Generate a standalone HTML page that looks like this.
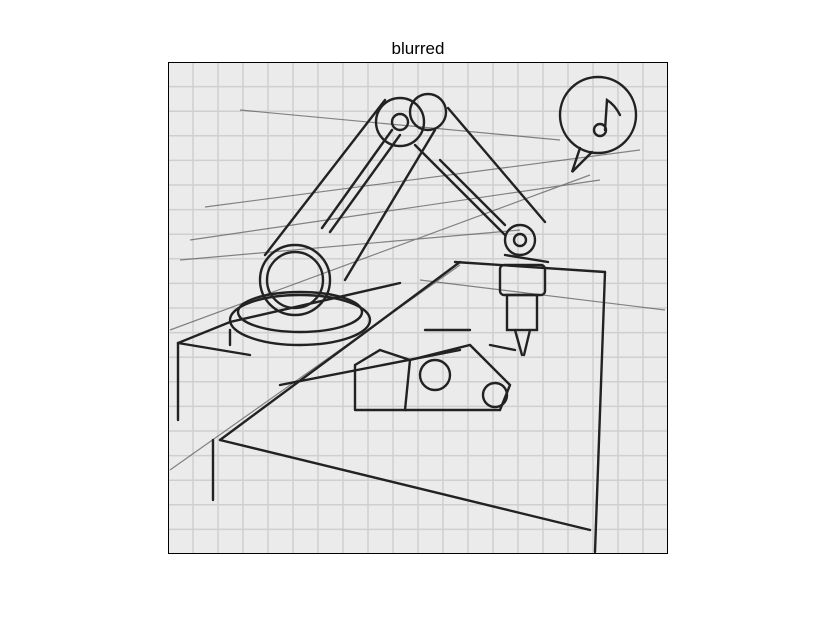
<!DOCTYPE html>
<html><head><meta charset="utf-8"><style>
body{margin:0;background:#fff;width:815px;height:615px;overflow:hidden;font-family:"Liberation Sans",sans-serif}
</style></head><body>
<svg width="815" height="615">
<text x="418" y="54" text-anchor="middle" font-size="17" fill="#000">blurred</text>
<g>
<rect x="168" y="62" width="500" height="492" fill="#ebebeb"/>
<g id="grid" stroke="#cfcfcf" stroke-width="1.5"></g>
<g fill="none" stroke="#555" stroke-width="1.2" opacity="0.7">
<line x1="205" y1="207" x2="640" y2="150"/>
<line x1="170" y1="330" x2="590" y2="175"/>
<line x1="190" y1="240" x2="600" y2="180"/>
<line x1="180" y1="260" x2="520" y2="230"/>
<line x1="170" y1="470" x2="460" y2="265"/>
<line x1="240" y1="110" x2="560" y2="140"/>
<line x1="420" y1="280" x2="665" y2="310"/>
</g>
<g fill="none" stroke="#222" stroke-width="2.4" stroke-linecap="round">
<!-- table -->
<polyline points="178,420 178,343 230,322 400,283"/>
<line x1="230" y1="330" x2="230" y2="345"/>
<line x1="178" y1="343" x2="250" y2="355"/>
<line x1="213" y1="500" x2="213" y2="440"/>
<line x1="220" y1="440" x2="460" y2="262"/>
<line x1="220" y1="440" x2="590" y2="530"/>
<line x1="455" y1="262" x2="605" y2="272"/>
<line x1="605" y1="272" x2="595" y2="552"/>
<line x1="280" y1="385" x2="460" y2="350"/>
<!-- base -->
<ellipse cx="300" cy="320" rx="70" ry="25"/>
<ellipse cx="300" cy="312" rx="62" ry="20"/>
<circle cx="295" cy="280" r="35"/>
<circle cx="295" cy="280" r="28"/>
<!-- upper arm -->
<line x1="265" y1="255" x2="385" y2="100"/>
<line x1="345" y1="280" x2="435" y2="130"/>
<line x1="322" y1="228" x2="392" y2="130"/>
<line x1="330" y1="232" x2="400" y2="135"/>
<circle cx="400" cy="122" r="24"/>
<circle cx="400" cy="122" r="8"/>
<circle cx="428" cy="112" r="18"/>
<!-- forearm -->
<line x1="415" y1="145" x2="505" y2="235"/>
<line x1="448" y1="108" x2="545" y2="222"/>
<line x1="440" y1="160" x2="505" y2="225"/>
<circle cx="520" cy="240" r="15"/>
<circle cx="520" cy="240" r="6"/>
<rect x="500" y="265" width="45" height="30" rx="4"/>
<rect x="507" y="295" width="30" height="35"/>
<line x1="515" y1="330" x2="522" y2="355"/>
<line x1="530" y1="330" x2="524" y2="355"/>
<line x1="505" y1="255" x2="548" y2="262"/>
<!-- small part -->
<polyline points="355,410 405,410 410,360 380,350 355,365 355,410"/>
<polyline points="410,360 470,345 510,385 500,410 405,410"/>
<circle cx="435" cy="375" r="15"/>
<circle cx="495" cy="395" r="12"/>
<line x1="425" y1="330" x2="470" y2="330"/>
<line x1="490" y1="345" x2="515" y2="350"/>
<!-- bubble -->
<circle cx="598" cy="115" r="38"/>
<polyline points="580,148 572,172 592,152"/>
<circle cx="600" cy="130" r="6"/>
<path d="M605,130 L607,100 Q615,105 620,115"/>
</g>
</g>
<rect x="168.5" y="62.5" width="499" height="491" fill="none" stroke="#000" stroke-width="1"/>
</svg>
<script>
var g=document.getElementById('grid');
for(var i=1;i<20;i++){
var x=168+i*25,y=62+i*24.6;
var l=document.createElementNS('http://www.w3.org/2000/svg','line');
l.setAttribute('x1',x);l.setAttribute('x2',x);l.setAttribute('y1',62);l.setAttribute('y2',554);


g.appendChild(l);
var h=document.createElementNS('http://www.w3.org/2000/svg','line');
h.setAttribute('x1',168);h.setAttribute('x2',668);h.setAttribute('y1',y);h.setAttribute('y2',y);


g.appendChild(h);
}
</script>
</body></html>
